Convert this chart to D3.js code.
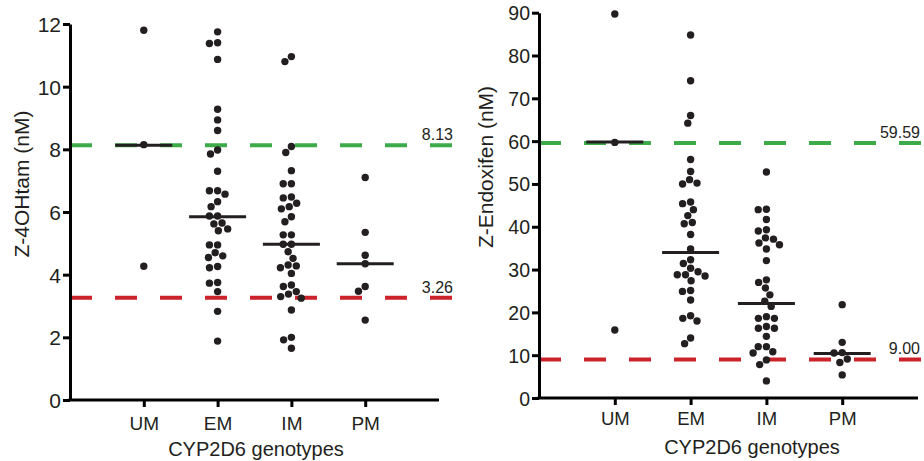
<!DOCTYPE html>
<html>
<head>
<meta charset="utf-8">
<script src="https://cdn.jsdelivr.net/npm/d3@7"></script>
<style>
  body { margin: 0; background: #fff; }
  svg { display: block; font-family: "Liberation Sans", Arial, sans-serif; }
  .axis path, .axis line { stroke: #000; }
  .axis text { fill: #231f20; }
</style>
</head>
<body>
<div id="chart"></div>
<script>
//-- Data
var categories = ["UM", "EM", "IM", "PM"];

var ohtamUM = [11.8, 8.15, 4.27];
var ohtamEM = [11.75, 11.4, 11.38, 10.87, 9.28, 8.94, 8.6, 7.98, 7.85, 7.3, 6.68, 6.68, 6.57,
               6.33, 6.17, 5.87, 5.87, 5.65, 5.62, 5.46, 5.4, 4.95, 4.95, 4.7, 4.6, 4.55, 4.26,
               4.22, 3.75, 3.73, 3.46, 2.83, 1.88];
var ohtamIM = [10.96, 10.8, 8.09, 7.9, 7.32, 6.9, 6.9, 6.48, 6.45, 6.28, 6.17, 6.1, 5.85, 5.69,
               5.27, 5.27, 4.97, 4.97, 4.73, 4.52, 4.31, 4.28, 4.22, 4.04, 3.67, 3.62, 3.46,
               3.38, 3.3, 3.25, 2.87, 2.0, 1.92, 1.65];
var ohtamPM = [7.1, 5.35, 4.62, 4.35, 3.62, 3.47, 2.55];
var ohtamMedians = [8.13, 5.85, 4.97, 4.35];
var ohtamThresholds = [8.13, 3.26];
var ohtamTicks = [0, 2, 4, 6, 8, 10, 12];

var endoxUM = [89.7, 59.7, 15.9];
var endoxEM = [84.8, 74.1, 66.0, 64.2, 55.7, 52.9, 51.0, 50.2, 50.0, 45.8, 45.4, 44.0, 42.6,
               41.0, 40.7, 38.2, 34.8, 32.3, 31.4, 30.3, 29.5, 28.8, 28.5, 28.8, 27.4, 25.1,
               24.9, 22.9, 19.2, 18.6, 18.0, 14.0, 12.7];
var endoxIM = [52.8, 44.1, 44.0, 41.7, 39.3, 39.0, 37.4, 37.1, 36.2, 35.8, 34.8, 32.1, 27.6,
               27.0, 25.7, 24.1, 22.6, 21.4, 19.0, 18.6, 18.6, 16.7, 16.3, 16.3, 14.4, 12.0,
               12.0, 10.8, 10.5, 8.9, 7.8, 4.0];
var endoxPM = [21.8, 13.0, 10.6, 10.5, 9.1, 8.3, 5.4];
var endoxMedians = [59.8, 34.0, 22.1, 10.4];
var endoxThresholds = [59.59, 9.00];
var endoxTicks = [0, 10, 20, 30, 40, 50, 60, 70, 80, 90];

var thresholdColors = ["#3dab4a", "#cc2229"];
var ink = "#231f20";

var totWidth = 924, totHeight = 461;

var svg = d3.select("#chart")
  .append("svg")
    .attr("width", totWidth)
    .attr("height", totHeight);

//-- One panel of the figure
function drawPanel(p) {
  var g = svg.append("g");

  var y = d3.scaleLinear()
    .domain([p.ticks[0], p.ticks[p.ticks.length - 1]])
    .range([p.bottom, p.top]);

  var x = d3.scalePoint()
    .domain(categories)
    .range([p.left, p.right])
    .padding(1);

  //-- Threshold lines (behind the dots)
  g.selectAll("line.thr")
    .data(p.thresholds)
    .enter().append("line")
      .attr("class", "thr")
      .attr("x1", p.left)
      .attr("x2", p.lineEnd)
      .attr("y1", function(d) { return y(d); })
      .attr("y2", function(d) { return y(d); })
      .attr("stroke", function(d, i) { return thresholdColors[i]; })
      .attr("stroke-width", 4)
      .attr("stroke-dasharray", "22,23");

  g.selectAll("text.thr")
    .data(p.thresholds)
    .enter().append("text")
      .attr("class", "thr")
      .attr("x", p.labelEnd)
      .attr("y", function(d) { return y(d) - 5; })
      .attr("text-anchor", "end")
      .style("font-size", "16px")
      .style("fill", ink)
      .text(function(d) { return d.toFixed(2); });

  //-- Dots, placed as a simple beeswarm per group
  var diam = 8.2;
  p.groups.forEach(function(values, gi) {
    var cx = x(categories[gi]);
    var placed = [];
    values.slice().sort(function(a, b) { return b - a; }).forEach(function(v) {
      var py = y(v);
      var cands = [0];
      placed.forEach(function(q) {
        var dy = Math.abs(q.y - py);
        if (dy < diam) {
          var dx = Math.sqrt(diam * diam - dy * dy);
          cands.push(q.x + dx, q.x - dx);
        }
      });
      cands.sort(function(a, b) { return Math.abs(a) - Math.abs(b) || a - b; });
      var best = cands.find(function(c) {
        return placed.every(function(q) {
          return (q.x - c) * (q.x - c) + (q.y - py) * (q.y - py) >= diam * diam - 0.01;
        });
      });
      placed.push({x: best, y: py});
    });
    g.append("g").selectAll("circle")
      .data(placed)
      .enter().append("circle")
        .attr("cx", function(d) { return cx + d.x; })
        .attr("cy", function(d) { return d.y; })
        .attr("r", 3.7)
        .attr("fill", ink);
  });

  //-- Median bars
  g.selectAll("line.med")
    .data(p.medians)
    .enter().append("line")
      .attr("class", "med")
      .attr("x1", function(d, i) { return x(categories[i]) - 28.5; })
      .attr("x2", function(d, i) { return x(categories[i]) + 28.5; })
      .attr("y1", function(d) { return y(d); })
      .attr("y2", function(d) { return y(d); })
      .attr("stroke", ink)
      .attr("stroke-width", 3);

  //-- Axes
  var yAxis = d3.axisLeft(y)
    .tickValues(p.ticks)
    .tickSize(7)
    .tickSizeOuter(0)
    .tickPadding(2);

  g.append("g")
    .attr("class", "axis")
    .attr("transform", "translate(" + p.left + ",0)")
    .call(yAxis)
    .call(function(s) {
      s.select(".domain").attr("stroke-width", 3);
      s.selectAll(".tick line").attr("stroke-width", 3);
      s.selectAll(".tick text").style("font-size", p.tickFont + "px").attr("dy", "0.36em");
    });

  var xAxis = d3.axisBottom(x)
    .tickSize(7)
    .tickSizeOuter(0)
    .tickPadding(p.catPad);

  g.append("g")
    .attr("class", "axis")
    .attr("transform", "translate(0," + p.bottom + ")")
    .call(xAxis)
    .call(function(s) {
      s.select(".domain").attr("stroke-width", 3).attr("d", "M" + (p.left - 1.5) + ",0H" + p.right);
      s.selectAll(".tick line").attr("stroke-width", 3);
      s.selectAll(".tick text").style("font-size", p.catFont + "px");
    });

  //-- Axis titles
  g.append("text")
    .attr("text-anchor", "middle")
    .attr("transform", "translate(" + p.yTitleX + "," + p.yTitleY + ") rotate(-90)")
    .style("font-size", "21px")
    .style("fill", ink)
    .text(p.yTitle);

  g.append("text")
    .attr("text-anchor", "middle")
    .attr("x", p.xTitleX)
    .attr("y", p.xTitleY)
    .style("font-size", "20px")
    .style("fill", ink)
    .text("CYP2D6 genotypes");
}

drawPanel({
  groups: [ohtamUM, ohtamEM, ohtamIM, ohtamPM],
  medians: ohtamMedians,
  thresholds: ohtamThresholds,
  ticks: ohtamTicks,
  left: 70, right: 439, top: 24, bottom: 400,
  lineEnd: 453, labelEnd: 453,
  tickFont: 21, catFont: 19, catPad: 10,
  yTitle: "Z-4OHtam (nM)", yTitleX: 29, yTitleY: 184,
  xTitleX: 256, xTitleY: 456
});

drawPanel({
  groups: [endoxUM, endoxEM, endoxIM, endoxPM],
  medians: endoxMedians,
  thresholds: endoxThresholds,
  ticks: endoxTicks,
  left: 539, right: 918, top: 12.7, bottom: 398,
  lineEnd: 924, labelEnd: 920,
  tickFont: 19.5, catFont: 18.5, catPad: 7,
  yTitle: "Z-Endoxifen (nM)", yTitleX: 493, yTitleY: 167,
  xTitleX: 752, xTitleY: 454
});
</script>
</body>
</html>
